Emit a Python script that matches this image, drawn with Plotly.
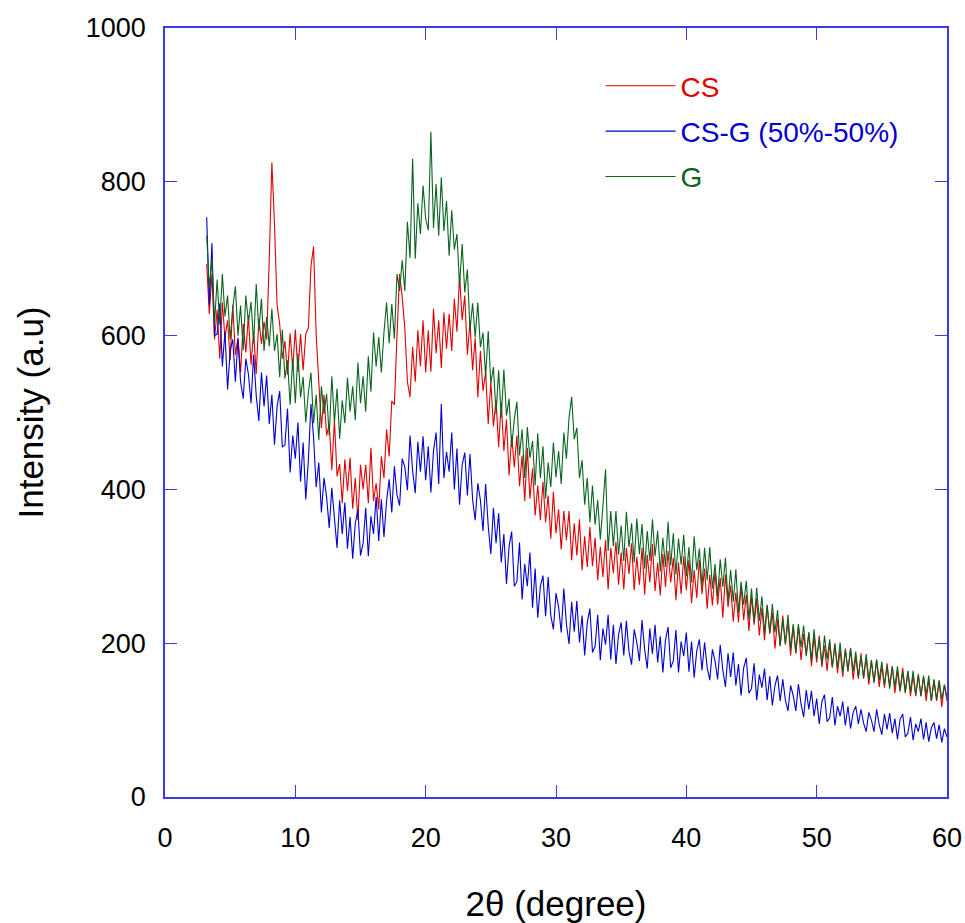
import plotly.graph_objects as go

# 2-theta scan grid: 3.2 .. 60.0 in 0.2 degree steps
theta_start = 3.2
theta_step = 0.2

# CS intensity (a.u), one row per degree
cs = [
    693, 628, 680, 595,
    634, 570, 643, 597, 620,
    568, 640, 575, 597, 552,
    615, 578, 626, 562, 605,
    550, 622, 589, 618, 595,
    700, 825, 745, 640, 615,
    570, 593, 549, 603, 557,
    608, 553, 602, 555, 602,
    610, 690, 716, 600, 545,
    480, 523, 470, 485, 425,
    490, 417, 433, 382, 439,
    398, 441, 375, 415, 360,
    432, 400, 432, 382, 454,
    385, 408, 374, 443, 415,
    478, 443, 515, 510, 600,
    680, 650, 610, 540, 520,
    585, 540, 607, 560, 620,
    552, 607, 553, 635, 577,
    620, 558, 630, 583, 628,
    580, 648, 605, 678, 620,
    652, 575, 618, 555, 597,
    520, 580, 528, 552, 485,
    540, 482, 517, 455, 513,
    450, 491, 418, 470, 429,
    470, 404, 444, 385, 454,
    388, 427, 366, 405, 360,
    410, 357, 392, 336, 397,
    343, 374, 322, 372, 334,
    372, 308, 356, 314, 361,
    295, 339, 299, 351, 300,
    337, 282, 325, 286, 334,
    270, 324, 291, 332, 276,
    318, 270, 324, 290, 330,
    269, 312, 276, 324, 263,
    315, 279, 329, 268, 305,
    262, 316, 273, 320, 279,
    311, 256, 305, 264, 313,
    269, 308, 252, 295, 259,
    308, 264, 297, 245, 289,
    249, 293, 250, 285, 233,
    289, 247, 275, 228, 266,
    227, 275, 230, 263, 216,
    261, 224, 258, 210, 246,
    204, 249, 212, 240, 193,
    231, 196, 236, 198, 228,
    184, 222, 187, 222, 178,
    212, 185, 214, 170, 209,
    175, 210, 169, 197, 164,
    200, 169, 200, 161, 192,
    156, 193, 164, 192, 153,
    182, 154, 187, 154, 181,
    146, 177, 150, 178, 143,
    170, 142, 174, 145, 170,
    135, 164, 137, 168, 137,
    163, 131, 158, 131, 160,
    131, 156, 125, 152, 125,
    153, 125, 150, 117, 146,
    125,
]

# CS-G (50%-50%) intensity (a.u)
csg = [
    754, 640, 720, 600,
    602, 642, 560, 605, 530,
    580, 595, 540, 596, 540,
    518, 570, 550, 512, 575,
    522, 489, 552, 508, 548,
    485, 523, 458, 508, 528,
    455, 458, 505, 422, 470,
    440, 487, 410, 461, 387,
    438, 511, 467, 403, 435,
    370, 415, 390, 350, 402,
    359, 324, 386, 342, 383,
    323, 364, 310, 356, 374,
    314, 330, 376, 313, 365,
    342, 390, 333, 387, 338,
    385, 413, 370, 430, 393,
    379, 440, 429, 399, 470,
    424, 395, 462, 423, 469,
    412, 456, 396, 450, 474,
    407, 511, 415, 449, 423,
    474, 400, 453, 380, 432,
    448, 392, 446, 387, 360,
    408, 386, 346, 407, 352,
    316, 376, 330, 369, 305,
    342, 277, 326, 345, 274,
    280, 331, 257, 303, 274,
    318, 246, 297, 233, 274,
    288, 235, 286, 236, 218,
    265, 247, 214, 271, 225,
    199, 254, 215, 255, 201,
    236, 184, 227, 245, 188,
    196, 237, 178, 219, 198,
    237, 179, 224, 173, 211,
    227, 184, 229, 189, 172,
    218, 201, 177, 230, 192,
    167, 219, 186, 224, 175,
    209, 162, 204, 221, 168,
    177, 217, 162, 202, 183,
    214, 163, 202, 155, 190,
    205, 165, 201, 168, 152,
    192, 177, 153, 198, 165,
    143, 187, 156, 188, 145,
    173, 132, 168, 181, 135,
    141, 174, 126, 159, 142,
    167, 126, 157, 119, 145,
    158, 125, 153, 126, 112,
    145, 132, 112, 147, 121,
    104, 139, 114, 138, 105,
    128, 95, 124, 133, 98,
    103, 130, 93, 118, 105,
    124, 93, 118, 89, 110,
    118, 95, 114, 96, 85,
    110, 100, 85, 114, 94,
    81, 108, 88, 109, 83,
    102, 75, 101, 108, 78,
    83, 104, 74, 95, 85,
    102, 75, 97, 72, 90,
    97, 76, 94, 71, 89,
    78,
]

# G intensity (a.u)
g = [
    730, 662, 700, 615,
    673, 614, 680, 625, 652,
    595, 636, 664, 600, 639,
    581, 652, 617, 644, 590,
    667, 606, 648, 580, 624,
    586, 635, 580, 602, 546,
    608, 544, 568, 510, 570,
    512, 577, 520, 546, 487,
    526, 552, 486, 523, 464,
    534, 498, 524, 470, 547,
    487, 531, 466, 516, 486,
    545, 501, 534, 490, 565,
    512, 547, 501, 573, 527,
    604, 560, 598, 552, 604,
    643, 590, 641, 596, 680,
    658, 698, 658, 748, 701,
    830, 700, 772, 732, 795,
    752, 737, 865, 740, 797,
    730, 806, 736, 775, 704,
    763, 712, 732, 665, 719,
    656, 686, 607, 642, 598,
    643, 585, 604, 546, 606,
    538, 559, 498, 555, 494,
    556, 496, 518, 455, 491,
    514, 444, 478, 415, 481,
    441, 463, 405, 473, 415,
    456, 388, 435, 403, 461,
    416, 450, 407, 474, 440,
    493, 520, 465, 480, 415,
    438, 380, 415, 357, 405,
    354, 386, 335, 378, 426,
    320, 372, 326, 372, 315,
    353, 307, 371, 325, 356,
    305, 362, 316, 355, 297,
    346, 307, 361, 313, 346,
    293, 337, 299, 358, 301,
    343, 289, 336, 302, 341,
    287, 325, 279, 339, 295,
    323, 273, 324, 282, 325,
    271, 303, 261, 309, 273,
    311, 255, 295, 254, 296,
    240, 280, 250, 281, 231,
    271, 228, 272, 229, 261,
    213, 250, 214, 251, 214,
    243, 197, 231, 199, 237,
    193, 225, 187, 225, 195,
    223, 183, 214, 178, 218,
    180, 205, 172, 210, 179,
    205, 168, 198, 168, 201,
    162, 191, 163, 194, 163,
    189, 156, 183, 155, 186,
    152, 178, 148, 179, 152,
    176, 146, 170, 141, 170,
    143, 170, 139, 162, 135,
    164, 137, 164, 133, 158,
    131, 158, 133, 158, 125,
    152, 127, 152, 127, 146,
    130,
]

series_names = ["CS", "CS-G (50%-50%)", "G"]
series_colors = ["#e00000", "#0000d0", "#0a6420"]
series_values = [cs, csg, g]

x_ticks = [0, 10, 20, 30, 40, 50, 60]
y_ticks = [0, 200, 400, 600, 800, 1000]

for vals in series_values:
    assert len(vals) == 285, len(vals)

theta = [round(theta_start + theta_step * i, 2) for i in range(len(cs))]

FONT = "Liberation Sans, Arial, sans-serif"
AXIS_COLOR = "#3a3ae6"

fig = go.Figure()
for name, color, vals in zip(series_names, series_colors, series_values):
    fig.add_trace(go.Scatter(
        x=theta, y=vals, mode="lines", legendgroup=name,
        name=f"<span style='color:{color}'>{name}</span>",
        line=dict(color=color, width=1.1),
    ))

fig.update_layout(
    width=965, height=923,
    margin=dict(l=165, r=18, t=28, b=126),
    paper_bgcolor="white", plot_bgcolor="white",
    font=dict(family=FONT, size=27, color="black"),
    showlegend=True,
    legend=dict(
        x=0.557, y=0.957, xanchor="left", yanchor="top",
        bgcolor="rgba(0,0,0,0)", borderwidth=0,
        font=dict(family=FONT, size=28),
        traceorder="grouped", tracegroupgap=6,
        itemwidth=70,
    ),
)
fig.update_xaxes(
    range=[0, 60], tickvals=x_ticks, ticktext=[str(v) for v in x_ticks],
    ticks="inside", ticklen=12, tickcolor=AXIS_COLOR, tickwidth=1,
    showline=True, linecolor=AXIS_COLOR, linewidth=1.5, mirror="ticks",
    showgrid=False, zeroline=False, automargin=False,
    tickfont=dict(family=FONT, size=27, color="black"),
    ticklabelstandoff=16,
    title=dict(text="2θ (degree)", font=dict(family=FONT, size=35, color="black"), standoff=39),
)
fig.update_yaxes(
    range=[0, 1000], tickvals=y_ticks, ticktext=[str(v) for v in y_ticks],
    ticks="inside", ticklen=12, tickcolor=AXIS_COLOR, tickwidth=1,
    showline=True, linecolor=AXIS_COLOR, linewidth=1.5, mirror="ticks",
    showgrid=False, zeroline=False, automargin=False,
    tickfont=dict(family=FONT, size=27, color="black"),
    ticklabelstandoff=12,
    title=dict(text="Intensity (a.u)", font=dict(family=FONT, size=35, color="black"), standoff=32),
)

# remove the default page margin so the figure fills the window exactly
fig.write_html(
    "out.html",
    config={"displayModeBar": False},
    post_script="document.body.style.margin='0';document.body.style.overflow='hidden';",
)
